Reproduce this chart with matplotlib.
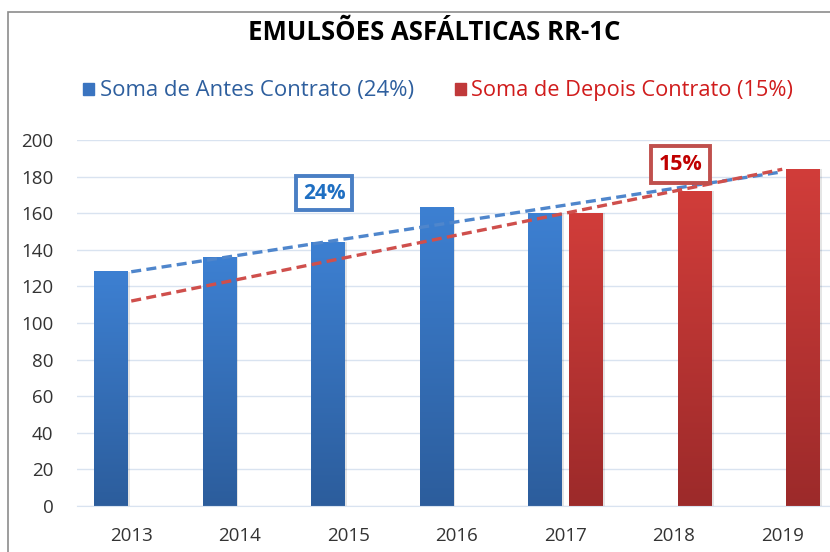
import numpy as np
import matplotlib.pyplot as plt
from matplotlib.colors import LinearSegmentedColormap

anos = ['2013', '2014', '2015', '2016', '2017', '2018', '2019']
antes = [128, 136, 144, 163, 160, None, None]
depois = [None, None, None, None, 160, 172, 184]
yticks = [0, 20, 40, 60, 80, 100, 120, 140, 160, 180, 200]

plt.rcParams['font.family'] = ['Open Sans', 'DejaVu Sans']

fig = plt.figure(figsize=(8.3, 5.52), dpi=100)
fig.patch.set_facecolor('white')
ax = fig.add_axes([77 / 830, 46 / 552, 759.5 / 830, 366 / 552])

x = np.arange(len(anos))
off = 0.19
w = 0.305

cmap_azul = LinearSegmentedColormap.from_list('az', ['#2c5d9c', '#3d80d2'])
cmap_verm = LinearSegmentedColormap.from_list('vm', ['#9c2a2a', '#d13d3a'])

def barras(xs, vals, cmap, cor):
    xs2 = [a for a, v in zip(xs, vals) if v is not None]
    vs = [v for v in vals if v is not None]
    bars = ax.bar(xs2, vs, width=w, color=cor, zorder=2)
    grad = np.linspace(0, 1, 256).reshape(-1, 1)
    for b in bars:
        x0, y0 = b.get_x(), b.get_y()
        bw, bh = b.get_width(), b.get_height()
        # leve sombra
        ax.bar(x0 + bw / 2 + 0.025, bh, width=bw, bottom=y0, color='#000000',
               alpha=0.10, zorder=1.5)
        ax.imshow(grad, cmap=cmap, origin='lower', aspect='auto',
                  extent=[x0, x0 + bw, y0, y0 + bh], zorder=2.5)
    return xs2, vs

xa, va = barras(x - off, antes, cmap_azul, '#3a78c6')
xd, vd = barras(x + off, depois, cmap_verm, '#c93634')

# linhas de tendencia (regressao linear pelos indices das categorias)
xa_i = [i for i, v in enumerate(antes) if v is not None]
xd_i = [i for i, v in enumerate(depois) if v is not None]
pa = np.polyfit(xa_i, va, 1)
pd_ = np.polyfit(xd_i, vd, 1)
xt = np.array([0, len(anos) - 1])
ax.plot(xt, np.polyval(pa, xt), color='#4f86cc', lw=2.4, ls=(0, (3, 1.6)), zorder=4)
ax.plot(xt, np.polyval(pd_, xt), color='#cf4f4c', lw=2.4, ls=(0, (3, 1.6)), zorder=4)

ax.set_xlim(-0.5, 6.5)
ax.set_ylim(0, 200)
ax.set_yticks(yticks)
ax.set_xticks(x)
ax.set_xticklabels(anos)
ax.grid(axis='y', color='#d9e3f0', lw=1, zorder=0)
ax.set_axisbelow(True)
for s in ['top', 'right', 'left']:
    ax.spines[s].set_visible(False)
ax.spines['bottom'].set_color('#d9e3f0')
ax.tick_params(axis='both', length=0, labelsize=13.5, colors='#333333')
ax.tick_params(axis='y', pad=17)
ax.tick_params(axis='x', pad=15)

# caixas de percentual
ax.text(1.78, 171, '24%', ha='center', va='center', fontsize=15, fontweight='bold',
        color='#1f6fc2', zorder=6,
        bbox=dict(boxstyle='square,pad=0.32', fc='white', ec='#4a7fc4', lw=2.8))
ax.text(5.06, 186.5, '15%', ha='center', va='center', fontsize=15.5, fontweight='bold',
        color='#c00000', zorder=6,
        bbox=dict(boxstyle='square,pad=0.36', fc='white', ec='#c0504d', lw=2.8))

# titulo e legenda
fig.text(434 / 830, 1 - 33 / 552, 'EMULSÕES ASFÁLTICAS RR-1C', ha='center', va='center',
         fontsize=18.5, fontweight='bold', color='black')
fig.patches.append(plt.Rectangle((83 / 830, 1 - 95 / 552), 11 / 830, 12 / 552,
                                 transform=fig.transFigure, color='#3a74c0'))
fig.text(100 / 830, 1 - 90 / 552, 'Soma de Antes Contrato (24%)', ha='left', va='center',
         fontsize=15.9, color='#2e5f9e')
fig.patches.append(plt.Rectangle((455 / 830, 1 - 95 / 552), 11 / 830, 12 / 552,
                                 transform=fig.transFigure, color='#c0393a'))
fig.text(471 / 830, 1 - 90 / 552, 'Soma de Depois Contrato (15%)', ha='left', va='center',
         fontsize=15.7, color='#d01c1c')

# borda do grafico
fig.patches.append(plt.Rectangle((8 / 830, -0.1), 1.2, 1 - 12 / 552 + 0.1,
                                 transform=fig.transFigure, fill=False, ec='#8c8c8c', lw=1.2))

fig.savefig('out.png', dpi=100)
